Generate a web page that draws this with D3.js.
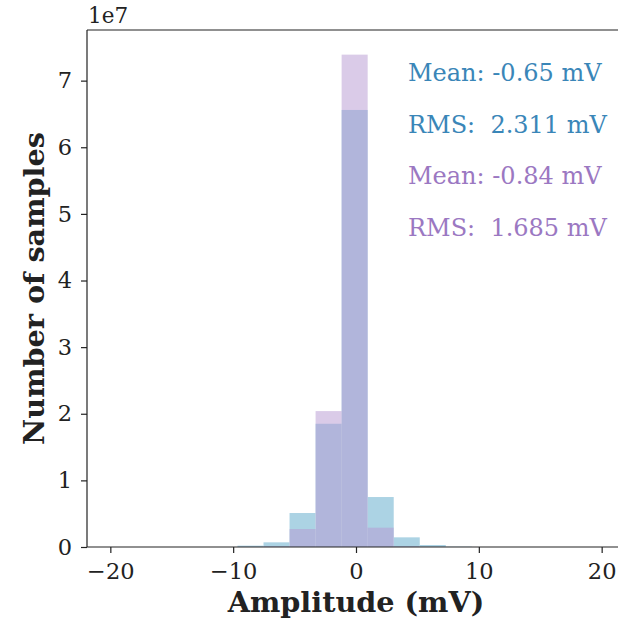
<!DOCTYPE html>
<html lang="en">
<head>
    <meta charset="UTF-8">
    <title>Amplitude histogram</title>
    <script src="https://d3js.org/d3.v7.min.js"></script>
    <style>
        body { margin: 0; background: #fff; }
        svg text { font-family: "DejaVu Serif", serif; fill: #222; }
        .axis path, .axis line { stroke: #222; stroke-width: 1.2px; }
        .axis text { font-size: 22.5px; }
    </style>
</head>
<body>
<div id="chart"></div>
<script>
// bin edges (mV), shared by both histograms
const binEdges = [-9.65, -7.53, -5.41, -3.29, -1.17, 0.95, 3.07, 5.19, 7.31, 9.43];
// counts per bin, in units of 1e7
const countsA = [0.02, 0.07, 0.51, 1.85, 6.56, 0.75, 0.145, 0.03, 0.005];
const countsB = [0.003, 0.01, 0.27, 2.04, 7.39, 0.29, 0.01, 0.002, 0.0];
const xTicks = [-20, -10, 0, 10, 20];
const yTicks = [0, 1, 2, 3, 4, 5, 6, 7];
const statsA = ["Mean: -0.65 mV", "RMS:\u00a0 2.311 mV"];
const statsB = ["Mean: -0.84 mV", "RMS:\u00a0 1.685 mV"];

const W = 618, H = 619;
const margin = { top: 30, right: -7, bottom: 72, left: 87 };
const iw = W - margin.left - margin.right;
const ih = H - margin.top - margin.bottom;

const svg = d3.select("#chart").append("svg")
    .attr("width", W).attr("height", H);
const g = svg.append("g").attr("transform", `translate(${margin.left},${margin.top})`);

const x = d3.scaleLinear().domain([-21.9, 21.9]).range([0, iw]);
const y = d3.scaleLinear().domain([0, 7.76]).range([ih, 0]);

function bars(counts, fill, opacity) {
    g.selectAll(null)
        .data(counts)
        .enter().append("rect")
        .attr("x", (d, i) => x(binEdges[i]))
        .attr("width", (d, i) => x(binEdges[i + 1]) - x(binEdges[i]))
        .attr("y", d => y(d))
        .attr("height", d => ih - y(d))
        .attr("fill", fill)
        .attr("fill-opacity", opacity);
}
bars(countsA, "#acd3e4", 1);
bars(countsB, "#b598d2", 0.5);

// axes
g.append("g").attr("class", "axis")
    .attr("transform", `translate(0,${ih})`)
    .call(d3.axisBottom(x).tickValues(xTicks).tickSize(6).tickPadding(10)
        .tickFormat(d => d < 0 ? "\u2212" + Math.abs(d) : d))
    .call(a => a.select(".domain").attr("d", `M0,0H${iw}`));
g.append("g").attr("class", "axis")
    .call(d3.axisLeft(y).tickValues(yTicks).tickSize(6).tickPadding(9))
    .call(a => a.select(".domain").attr("d", `M0,0V${ih}`));
g.append("line").attr("x1", 0).attr("x2", iw).attr("y1", 0).attr("y2", 0)
    .attr("stroke", "#222").attr("stroke-width", 1.2);
g.append("line").attr("x1", iw).attr("x2", iw).attr("y1", 0).attr("y2", ih)
    .attr("stroke", "#222").attr("stroke-width", 1.2);

// offset label
svg.append("text").attr("x", 88).attr("y", 23)
    .style("font-size", "21.5px").text("1e7");

// axis titles
svg.append("text")
    .attr("x", x(0) + margin.left).attr("y", 612)
    .attr("text-anchor", "middle")
    .style("font-size", "28.7px").style("font-weight", "bold")
    .text("Amplitude (mV)");
svg.append("text")
    .attr("transform", `translate(44,${margin.top + ih / 2}) rotate(-90)`)
    .attr("text-anchor", "middle")
    .style("font-size", "28.7px").style("font-weight", "bold")
    .text("Number of samples");

// stats annotations
const lines = statsA.map(t => [t, "#3a86b8"]).concat(statsB.map(t => [t, "#9b78c2"]));
svg.selectAll(".stat")
    .data(lines)
    .enter().append("text")
    .attr("class", "stat")
    .attr("x", 408)
    .attr("y", (d, i) => 81 + i * 51.7)
    .style("font-size", "24px")
    .style("fill", d => d[1])
    .text(d => d[0]);
</script>
</body>
</html>
